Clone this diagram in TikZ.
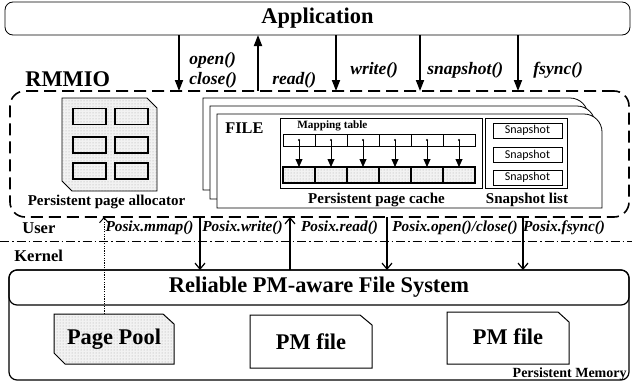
\documentclass[tikz,border=0pt]{standalone}
\usepackage{fontspec}
\setmainfont{Liberation Serif}
\newfontfamily\snapfont{Carlito}
\usetikzlibrary{arrows.meta,patterns}

\begin{document}
\begin{tikzpicture}[x=1pt,y=-1pt,line width=0.8pt,
  box/.style={draw,rectangle,inner sep=0pt,outer sep=0pt},
  stipple/.style={preaction={fill=gray!10},pattern=dots,pattern color=gray!70},
  call/.style={line width=1.8pt,-{Triangle[length=11pt,width=8pt]}},
  posix/.style={line width=1.2pt,-{Straight Barb[length=6pt,width=10pt]}},
  lbl/.style={font=\fontsize{17.5}{18}\selectfont\bfseries\itshape,inner sep=0pt,anchor=west},
  plbl/.style={font=\fontsize{15.3}{16}\selectfont\bfseries\itshape,inner sep=0pt},
  captxt/.style={font=\fontsize{15}{16}\selectfont\bfseries,inner sep=0pt,anchor=base},
  big/.style={font=\fontsize{22.4}{24}\selectfont\bfseries}]
  \useasboundingbox (0,0) rectangle (632,383);

  % user space
  \node[box,big,rounded corners=8pt,minimum width=625pt,minimum height=33pt] (app) at (317.5,18.5) {Application};
  \node[big,inner sep=0pt,anchor=base west] (rmmiolbl) at (25,86) {RMMIO};
  \node[box,line width=1.6pt,dash pattern=on 12pt off 6pt,rounded corners=15pt,
    minimum width=619pt,minimum height=126pt] (rmmio) at (319.5,154) {};

  \foreach \x in {179,336,420,518}
    \draw[call] (app.south -| \x,0) -- (rmmio.north -| \x,0);
  \draw[call] (rmmio.north -| 258,0) -- (app.south -| 258,0);
  \node[lbl] (lopen) at (189,60) {open()};
  \node[lbl] (lclose) at (189,80) {close()};
  \node[lbl] (lread) at (272,80) {read()};
  \node[lbl] (lwrite) at (350,70) {write()};
  \node[lbl] (lsnap) at (427,70) {snapshot()};
  \node[lbl] (lfsync) at (533,70) {fsync()};

  % page allocator
  \draw[stipple] (62,98) -- (147,98) -- (157,108) -- (157,191) -- (72,191) -- (62,181) -- cycle;
  \foreach \r/\y in {1/116.5,2/145,3/171}
    \foreach \c/\x in {1/89.5,2/131.5}
      \node[box,stipple,line width=1.3pt,minimum width=33pt,minimum height=16pt] (blk\r\c) at (\x,\y) {};
  \node[captxt] (alloclbl) at (106.5,205) {Persistent page allocator};

  % file stack
  \foreach \l/\t/\r/\b in {203/98/588/190,210/106/595/199,217/114/602/208}
    \draw[fill=white] (\l,\b) -- (\l,\t) [rounded corners=18pt] -- (\r,\t) [sharp corners] -- (\r,\b) -- cycle;
  \node[font=\fontsize{16.3}{17}\selectfont\bfseries,inner sep=0pt,anchor=west] (filelbl) at (225,128) {FILE};

  \node[box,minimum width=202pt,minimum height=70pt] (cache) at (381,153) {};
  \node[font=\fontsize{11.2}{12}\selectfont\bfseries,inner sep=0pt,anchor=west] (maplbl) at (297,126) {Mapping table};
  \foreach \i in {1,...,6} {
    \node[box,minimum width=32pt,minimum height=12pt] (m\i) at (267+32*\i,140) {};
    \node[box,stipple,line width=1.3pt,minimum width=32pt,minimum height=16pt] (c\i) at (267+32*\i,175) {};
    \fill (m\i.center) circle (1.2pt);
    \draw[-{Triangle[length=8pt,width=7pt]}] (m\i.center) -- (c\i.north);
  }
  \node[captxt] (cachelbl) at (376.5,203) {Persistent page cache};

  \node[box,minimum width=82pt,minimum height=70pt] (snaps) at (526,153) {};
  \foreach \i/\y in {1/130.5,2/155,3/177.5}
    \node[box,minimum width=69pt,minimum height=15pt,font=\snapfont\fontsize{12}{12}\selectfont] (s\i) at (527.5,\y) {Snapshot};
  \node[captxt] (snapslbl) at (527,203) {Snapshot list};

  % user / kernel
  \node[font=\fontsize{16.5}{17}\selectfont\bfseries,inner sep=0pt,anchor=west] (user) at (22,228) {User};
  \node[font=\fontsize{16.5}{17}\selectfont\bfseries,inner sep=0pt,anchor=west] (kernel) at (14,256) {Kernel};
  \draw[dash pattern=on 9pt off 3pt on 1.5pt off 3pt] (0,241) -- (632,241);

  % persistent memory
  \node[box,rounded corners=8pt,line width=1.2pt,minimum width=620pt,minimum height=110pt] (pmem) at (319,325) {};
  \node[box,big,rounded corners=8pt,line width=1.2pt,minimum width=620pt,minimum height=35pt] (fs) at (319,287.5) {Reliable PM-aware File System};
  \draw[stipple,line width=1pt] (54,314) -- (163,314) -- (174,324) -- (174,364) -- (65,364) -- (54,353) -- cycle;
  \draw[line width=1pt] (250,315) -- (360,315) -- (372,325) -- (372,368) -- (250,368) -- cycle;
  \draw[line width=1pt] (447,312) -- (558,312) -- (569,322) -- (569,364) -- (447,364) -- cycle;
  \node[big,inner sep=0pt] (pool) at (114,339) {Page Pool};
  \node[big,inner sep=0pt] (pm1) at (311,341.5) {PM file};
  \node[big,inner sep=0pt] (pm2) at (508,336.5) {PM file};
  \coordinate (pooltop) at (104,314);
  \node[font=\fontsize{14}{14}\selectfont\bfseries,inner sep=0pt,anchor=base east] (pmemlbl) at (627,377) {Persistent Memory};

  \draw[posix] (rmmio.south -| 200,0) -- (fs.north -| 200,0);
  \draw[posix] (fs.north -| 290,0) -- (rmmio.south -| 290,0);
  \draw[posix] (rmmio.south -| 387,0) -- (fs.north -| 387,0);
  \draw[posix] (rmmio.south -| 523,0) -- (fs.north -| 523,0);
  \draw[line width=1pt,dash pattern=on 1.2pt off 1.2pt,-{Straight Barb[length=5pt,width=9pt]}]
    (pooltop) -- (rmmio.south -| pooltop);
  \node[plbl] (lmmap) at (149.5,228) {Posix.mmap()};
  \node[plbl] (lpwrite) at (242.5,228) {Posix.write()};
  \node[plbl] (lpread) at (339.5,228) {Posix.read()};
  \node[plbl] (lpopen) at (455,228) {Posix.open()/close()};
  \node[plbl] (lpfsync) at (564,228) {Posix.fsync()};
\end{tikzpicture}
\end{document}
